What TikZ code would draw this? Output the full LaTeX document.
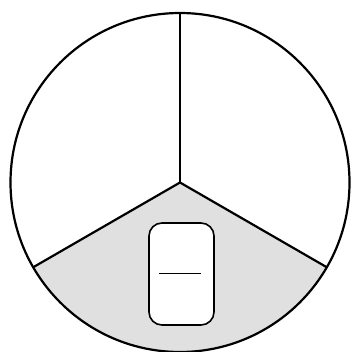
\documentclass[tikz,border=0pt]{standalone}
\definecolor{sector}{HTML}{E0E0E0}
\tikzset{
  outline/.style={draw=black,line width=2.2pt},
  card/.style={draw=black,fill=white,rounded corners=13pt,minimum width=65pt,minimum height=102pt,inner sep=0pt,line width=1.6pt},
  bar/.style={draw=black,line width=1.8pt}
}
\begin{document}
\begin{tikzpicture}[x=1pt,y=-1pt]
\useasboundingbox (0,0) rectangle (350,352);
\coordinate (c) at (180,182.5);
\coordinate (t) at (180,13);
\coordinate (l) at (33.2,267.25);
\coordinate (r) at (326.8,267.25);
\fill[sector] (c) -- (l) arc[start angle=210,delta angle=120,radius=169.5pt,x=1pt,y=1pt] -- cycle;
\draw[outline] (c) circle[radius=169.5pt];
\draw[outline,line join=round] (t) -- (c);
\draw[outline,line join=round] (l) -- (c) -- (r);
\node[card] (k) at (181.5,274) {};
\coordinate (a) at (159,273.5);
\coordinate (b) at (201,273.5);
\draw[bar] (a) -- (b);
\end{tikzpicture}
\end{document}
